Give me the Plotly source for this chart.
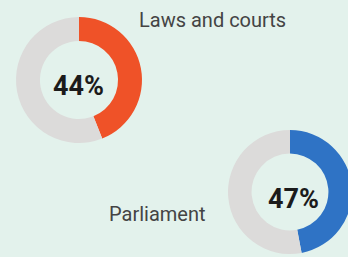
import plotly.graph_objects as go

labels = ["Laws and courts", "Parliament"]
values = [44, 47]
colors = ["#EF5228", "#2F73C5"]
rest_color = "#DCDBDA"
bg = "#E3F2EC"

W, H = 356, 257
# pixel geometry: (cx, cy, r)
geo = [(79, 80, 63), (290, 192, 62)]
text_pos = [(78, 86), (293, 199)]
label_pos = [(212, 20), (157, 214)]

fig = go.Figure()
for i, v in enumerate(values):
    cx, cy, r = geo[i]
    fig.add_trace(go.Pie(
        values=[v, 100 - v],
        labels=[labels[i], "Other"],
        hole=0.62,
        sort=False,
        direction="clockwise",
        rotation=0,
        marker=dict(colors=[colors[i], rest_color], line=dict(width=0)),
        textinfo="none",
        hoverinfo="label+percent",
        showlegend=False,
        domain=dict(x=[(cx - r) / W, (cx + r) / W],
                    y=[1 - (cy + r) / H, 1 - (cy - r) / H]),
    ))
    tx, ty = text_pos[i]
    fig.add_annotation(x=tx / W, y=1 - ty / H, xref="paper", yref="paper",
                       text=f"<b>{v}%</b>", showarrow=False,
                       font=dict(family="Roboto", size=27, color="#1B1B1B"),
                       xanchor="center", yanchor="middle")
    lx, ly = label_pos[i]
    fig.add_annotation(x=lx / W, y=1 - ly / H, xref="paper", yref="paper",
                       text=labels[i], showarrow=False,
                       font=dict(family="Roboto", size=20, color="#444444"),
                       xanchor="center", yanchor="middle")

fig.update_layout(width=W, height=H, margin=dict(l=0, r=0, t=0, b=0),
                  paper_bgcolor=bg, plot_bgcolor=bg)

fig.write_html("out.html", config={"displayModeBar": False},
               post_script="document.body.style.margin='0';document.body.style.overflow='hidden';document.documentElement.style.overflow='hidden';")
